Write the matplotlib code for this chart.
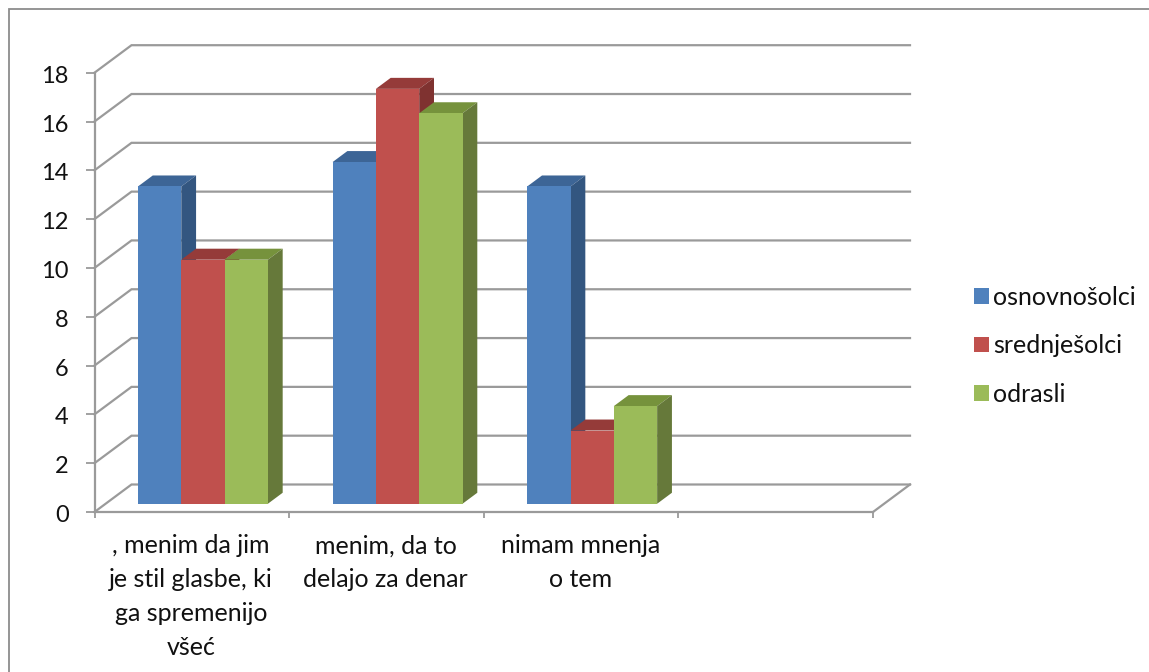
import matplotlib
matplotlib.use("Agg")
import matplotlib.pyplot as plt
import numpy as np
from matplotlib.patches import Rectangle
from matplotlib.transforms import ScaledTranslation

W, H = 1149, 672

categories = [", menim da jim\nje stil glasbe, ki\nga spremenijo\nvšeć",
              "menim, da to\ndelajo za denar",
              "nimam mnenja\no tem",
              ""]
series_names = ["osnovnošolci", "srednješolci", "odrasli"]
osnovnosolci = [13, 14, 13]
srednjesolci = [10, 17, 3]
odrasli = [10, 16, 4]
yticks = list(range(0, 20, 2))

front_colors = ["#4F81BD", "#C0504D", "#9BBB59"]
top_colors = ["#3D6596", "#953B39", "#76923C"]
side_colors = ["#335680", "#7F3230", "#66793A"]
grid_color = "#9A9A9A"

plt.rcParams["font.family"] = ["Lato", "DejaVu Sans"]

fig = plt.figure(figsize=(W / 100, H / 100), dpi=100)

# front plane of the fake 3d box, in pixels
left, right = 94.5, 873
top, bottom = 72.7, 512
ax = fig.add_axes([left / W, 1 - bottom / H, (right - left) / W, (bottom - top) / H])
ax.set_xlim(0, 4)
ax.set_ylim(0, 18)
ax.patch.set_visible(False)

# depth of the box in data units
px_x = 4 / (right - left)
px_y = 18 / (bottom - top)
DX = 37 * px_x
DY = 27.5 * px_y


def depth(x, y, d):
    return x + d * DX, y + d * DY


# outer frame
fig.add_artist(Rectangle((8.5 / W, -0.02), 1.2, 1.02 - 8.5 / H, transform=fig.transFigure,
                         fill=False, ec="#8C8C8C", lw=1.3))

# walls and gridlines
for v in yticks:
    x0, y0 = depth(0, v, 0)
    x1, y1 = depth(0, v, 1)
    x2, y2 = depth(4, v, 1)
    ax.plot([x0, x1, x2], [y0, y1, y2], color=grid_color, lw=1.6, clip_on=False, zorder=1,
            solid_joinstyle="miter")
x3, y3 = depth(4, 0, 1)
ax.plot([4, x3], [0, y3], color=grid_color, lw=1.6, clip_on=False, zorder=1)

# bars, painted left to right so that the nearer faces cover the others
bar_w = 0.2225
gap = 0.1663
d0, d1 = 0.30, 0.70
values = [osnovnosolci, srednjesolci, odrasli]
z = 3
for c in range(3):
    for s in range(3):
        v = values[s][c]
        xl = c + gap + s * bar_w
        xr = xl + bar_w
        xa, ya = depth(xl, 0, d0)
        ax.bar(xa, v, bar_w, bottom=ya, align="edge", color=front_colors[s], clip_on=False,
               zorder=z + 2, label=series_names[s] if c == 0 else None)
        pts = [depth(xl, v, d0), depth(xl, v, d1), depth(xr, v, d1), depth(xr, v, d0)]
        ax.fill(*zip(*pts), color=top_colors[s], lw=0, clip_on=False, zorder=z)
        pts = [depth(xr, 0, d0), depth(xr, 0, d1), depth(xr, v, d1), depth(xr, v, d0)]
        ax.fill(*zip(*pts), color=side_colors[s], lw=0, clip_on=False, zorder=z + 1)
        z += 3

# axes on the front plane
for name in ["top", "right"]:
    ax.spines[name].set_visible(False)
for name in ["left", "bottom"]:
    ax.spines[name].set_color(grid_color)
    ax.spines[name].set_linewidth(1.6)
    ax.spines[name].set_zorder(2)
ax.set_yticks(yticks)
ax.set_xticks(range(5))
ax.set_xticklabels([])
ax.tick_params(axis="y", length=6.5, width=1.3, color=grid_color, pad=12, labelsize=17,
               labelcolor="#111111")
ax.tick_params(axis="x", length=4.5, width=1.3, color=grid_color)
nudge = ScaledTranslation(0, -1.5 / 100, fig.dpi_scale_trans)
for t in ax.get_yticklabels():
    t.set_transform(t.get_transform() + nudge)
for i, label in enumerate(categories):
    ax.annotate(label, xy=(i + 0.5, 0), xycoords="data", xytext=(-0.5, -16),
                textcoords="offset points", ha="center", va="top", fontsize=18,
                color="#111111", linespacing=1.57, annotation_clip=False)

leg = ax.legend(loc="upper left", bbox_to_anchor=(951 / W, 1 - 263 / H),
                bbox_transform=fig.transFigure, frameon=False, fontsize=18,
                handlelength=0.6, handleheight=0.6, handletextpad=0.18, labelspacing=1.03,
                labelcolor="#111111")

fig.savefig("out.png", dpi=100, facecolor="white")
